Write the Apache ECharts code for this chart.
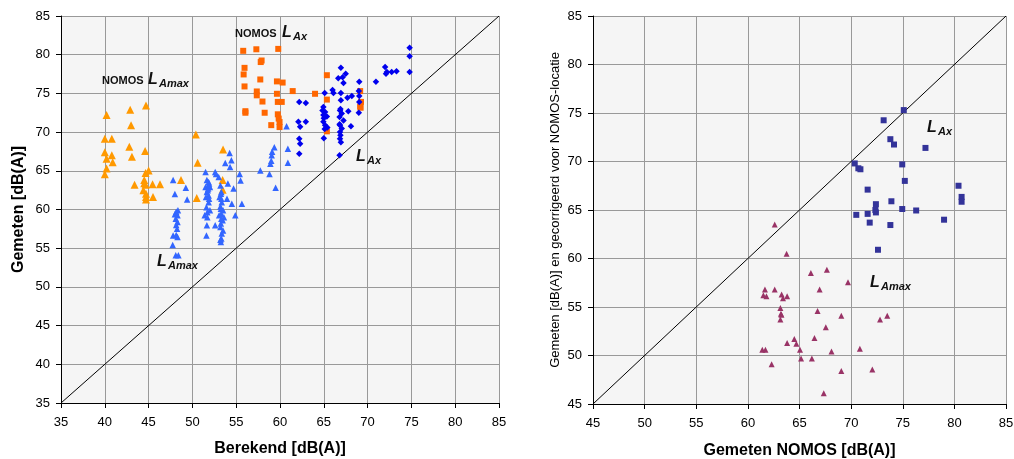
<!DOCTYPE html>
<html>
<head>
<meta charset="utf-8">
<script src="https://cdn.jsdelivr.net/npm/echarts@6/dist/echarts.min.js"></script>
<style>
html,body{margin:0;padding:0;background:#fff;}
#c{width:1014px;height:459px;}
</style>
</head>
<body>
<div id="c"></div>
<script>
// ---------- Left chart: Berekend vs Gemeten ----------
var leftTicks = [35, 40, 45, 50, 55, 60, 65, 70, 75, 80, 85];
var nomosLAmax = [[40.2,72.2],[40.0,69.15],[40.8,69.15],[40.0,67.4],[40.2,66.55],[40.8,67.0],[40.9,66.1],[40.2,65.3],[40.0,64.55],[42.9,72.9],[43.0,70.9],[42.8,68.1],[43.1,66.8],[43.4,63.2],[44.7,73.45],[44.6,67.55],[44.65,64.7],[45.0,65.05],[44.5,63.8],[44.65,63.2],[44.4,62.5],[44.7,62.05],[44.7,61.3],[44.7,61.6],[44.5,63.4],[45.45,63.25],[45.5,61.6],[46.3,63.25],[48.7,63.8],[50.4,69.7],[50.6,66.05],[50.5,61.5],[53.5,67.75],[53.45,63.8],[53.45,62.55]];
var lAmax = [[47.8,63.8],[48.0,62.0],[49.25,62.8],[49.4,61.3],[48.15,59.7],[48.3,59.25],[48.1,58.8],[48.3,58.4],[48.15,58.0],[48.25,57.5],[47.8,56.65],[48.3,56.45],[48.15,56.7],[47.75,55.4],[48.1,54.1],[48.4,54.1],[48.0,59.4],[48.35,59.9],[51.5,64.85],[51.65,63.8],[51.9,63.35],[51.5,62.9],[51.8,62.7],[52.0,62.9],[51.65,62.25],[51.85,61.8],[51.55,61.6],[51.85,60.95],[51.6,60.3],[51.4,59.25],[51.7,59.0],[51.65,57.95],[52.0,59.9],[52.6,57.95],[51.6,56.65],[51.85,63.55],[51.9,63.1],[51.75,62.5],[51.9,61.4],[51.7,59.65],[52.7,64.6],[53.0,64.2],[52.6,64.85],[53.2,63.1],[53.3,62.25],[53.1,61.6],[53.35,60.95],[53.2,60.4],[53.5,59.9],[53.05,59.25],[53.45,58.6],[53.2,57.75],[53.5,57.3],[53.35,56.9],[53.2,56.1],[53.6,59.0],[53.25,62.05],[53.3,61.4],[53.25,60.1],[53.3,58.8],[53.25,58.2],[53.3,56.25],[53.25,55.8],[53.3,59.45],[54.25,67.3],[53.75,66.0],[54.45,66.35],[54.3,65.5],[54.05,63.35],[53.95,61.4],[54.7,62.7],[54.5,60.75],[54.9,59.25],[55.4,64.6],[55.5,63.75],[55.65,60.75],[57.75,65.05],[58.9,65.9],[58.8,64.6],[59.05,67.0],[59.35,68.05],[59.5,62.8],[60.9,67.85],[60.9,66.05],[60.75,70.75],[59.1,67.45],[59.0,66.3]];
var nomosLAx = [[55.8,80.5],[57.3,80.7],[59.8,80.75],[55.95,78.3],[57.9,79.25],[57.8,79.05],[55.85,77.45],[57.75,76.8],[59.65,76.55],[60.3,76.4],[55.95,75.9],[57.35,75.25],[57.35,74.75],[61.45,75.3],[58.0,73.95],[59.75,73.9],[60.2,73.9],[59.65,74.95],[64.0,74.95],[56.05,72.7],[56.05,72.5],[58.25,72.5],[59.75,72.3],[59.85,71.75],[59.95,71.3],[59.95,70.65],[59.0,70.9],[65.35,77.35],[65.35,74.2],[65.35,70.1],[69.15,75.3],[69.25,73.9],[69.15,73.3],[69.2,73.15]];
var lAx = [[74.8,80.9],[74.8,79.8],[74.8,77.75],[72.0,78.4],[72.2,77.75],[72.1,77.55],[72.75,77.75],[73.3,77.85],[70.95,76.5],[66.95,78.3],[67.5,77.55],[67.15,77.1],[66.65,76.95],[67.25,76.35],[69.05,76.5],[65.1,75.05],[66.0,75.45],[66.1,75.05],[66.95,75.05],[68.2,74.65],[67.7,74.45],[66.95,74.1],[69.05,74.65],[62.2,73.9],[62.95,73.75],[64.95,73.25],[64.85,72.8],[65.15,72.6],[64.95,72.2],[65.35,72.0],[64.95,71.35],[65.15,70.9],[65.1,70.4],[65.0,69.2],[66.85,72.8],[67.05,72.4],[66.8,71.95],[67.25,71.5],[66.85,70.9],[67.05,70.45],[66.85,70.0],[66.85,69.15],[66.95,68.7],[66.8,67.0],[67.8,72.7],[68.1,70.75],[62.95,71.35],[62.1,71.35],[62.3,70.7],[62.2,69.15],[62.3,68.5],[62.2,67.2],[69.05,73.9],[69.0,72.5],[66.9,73.0],[66.8,71.0],[65.0,71.8],[66.9,69.6],[69.0,75.3],[65.4,70.6]];
var leftDiagonal = [[35,35],[85,85]];

// ---------- Right chart: Gemeten NOMOS vs gecorrigeerd ----------
var rightTicks = [45, 50, 55, 60, 65, 70, 75, 80, 85];
var rightLAx = [[75.1,75.3],[73.15,74.25],[73.8,72.3],[74.15,71.75],[77.2,71.4],[70.35,69.8],[70.7,69.3],[70.9,69.2],[74.95,69.7],[75.2,68.0],[71.6,67.1],[80.4,67.5],[80.7,66.35],[80.7,65.85],[73.9,65.9],[72.4,65.6],[74.95,65.1],[72.35,65.0],[72.4,64.75],[76.3,64.95],[71.6,64.6],[70.5,64.5],[71.8,63.7],[73.8,63.45],[79.0,64.0],[72.6,60.9]];
var rightLAmax = [[62.6,63.5],[63.75,60.5],[66.1,58.5],[67.65,58.85],[69.7,57.55],[61.65,56.8],[62.6,56.8],[66.95,56.8],[61.5,56.2],[61.8,56.1],[63.27,56.3],[63.4,55.9],[63.8,56.1],[63.15,54.9],[63.2,54.3],[63.15,53.7],[63.25,54.2],[66.75,54.6],[69.05,54.1],[67.55,52.9],[73.5,54.1],[72.8,53.7],[64.5,51.7],[64.7,51.2],[63.8,51.3],[66.45,51.8],[65.05,50.6],[61.4,50.6],[61.7,50.6],[68.1,50.4],[70.85,50.7],[65.15,49.7],[66.2,49.7],[62.3,49.1],[69.05,48.4],[72.05,48.55],[67.35,46.1]];
var rightDiagonal = [[45,45],[85,85]];

var FONT = "'Liberation Sans', Arial, sans-serif";

function axis(ticks, gridIndex, name, nameGap, bold, nameSize, labelMargin) {
  return {
    type: 'value', gridIndex: gridIndex,
    min: ticks[0], max: ticks[ticks.length - 1], interval: 5,
    name: name, nameLocation: 'middle', nameGap: nameGap,
    nameTextStyle: {fontFamily: FONT, fontSize: nameSize, fontWeight: bold ? 'bold' : 'normal', color: '#000'},
    axisLine: {show: true, onZero: false, lineStyle: {color: '#000', width: 1}},
    axisTick: {show: true, length: 5, lineStyle: {color: '#000'}},
    axisLabel: {fontFamily: FONT, fontSize: 13, color: '#000', margin: labelMargin},
    splitLine: {show: true, lineStyle: {color: '#999999', width: 1}}
  };
}

function scatter(data, xi, symbol, size, color) {
  return {type: 'scatter', xAxisIndex: xi, yAxisIndex: xi, data: data, symbol: symbol,
    symbolSize: size, itemStyle: {color: color, opacity: 1}, silent: true, z: 3};
}
function diag(data, xi) {
  return {type: 'line', xAxisIndex: xi, yAxisIndex: xi, data: data, showSymbol: false,
    lineStyle: {color: '#000', width: 1}, silent: true, z: 2};
}

function label(parts) {
  return parts.map(function (p) {
    return {type: 'text', x: p[1], y: p[2], z: 10, style: {
      text: p[0], fill: '#111', font: (p[4] ? 'italic ' : '') + 'bold ' + p[3] + 'px ' + FONT,
      textAlign: 'left', textVerticalAlign: 'middle'}};
  });
}

var graphics = [].concat(
  label([['NOMOS', 102, 80.5, 11, false], ['L', 148, 80, 16, true], ['Amax', 159, 83.5, 11, true]]),
  label([['NOMOS', 235, 33.5, 11, false], ['L', 282, 33, 16, true], ['Ax', 293, 37, 11, true]]),
  label([['L', 157, 262, 16, true], ['Amax', 168, 266, 11, true]]),
  label([['L', 356, 157, 16, true], ['Ax', 367, 161, 11, true]]),
  label([['L', 927, 128, 16, true], ['Ax', 938, 131.5, 11, true]]),
  label([['L', 870, 283, 16, true], ['Amax', 881, 287, 11, true]])
);

var chart = echarts.init(document.getElementById('c'), null, {renderer: 'canvas'});
chart.setOption({
  backgroundColor: '#fff',
  animation: false,
  grid: [
    {left: 61, top: 16, width: 438, height: 387, show: true, backgroundColor: '#f5f5f5', borderWidth: 0,
     containLabel: false, outerBoundsMode: 'none'},
    {left: 593, top: 16, width: 413, height: 388, show: true, backgroundColor: '#f5f5f5', borderWidth: 0,
     containLabel: false, outerBoundsMode: 'none'}
  ],
  xAxis: [
    axis(leftTicks, 0, 'Berekend [dB(A)]', 38, true, 16, 13),
    axis(rightTicks, 1, 'Gemeten NOMOS [dB(A)]', 39, true, 16, 13)
  ],
  yAxis: [
    axis(leftTicks, 0, 'Gemeten [dB(A)]', 34, true, 16, 11),
    axis(rightTicks, 1, 'Gemeten [dB(A)] en gecorrigeerd voor NOMOS-locatie', 31, false, 13, 11)
  ],
  series: [
    diag(leftDiagonal, 0),
    scatter(nomosLAmax, 0, 'triangle', 8, '#ff9900'),
    scatter(lAmax, 0, 'triangle', 6.5, '#3366ff'),
    scatter(nomosLAx, 0, 'rect', 6, '#ff6600'),
    scatter(lAx, 0, 'diamond', 6.5, '#0000ee'),
    diag(rightDiagonal, 1),
    scatter(rightLAx, 1, 'rect', 6, '#333399'),
    scatter(rightLAmax, 1, 'triangle', 6, '#993366')
  ],
  graphic: graphics
});
</script>
</body>
</html>
